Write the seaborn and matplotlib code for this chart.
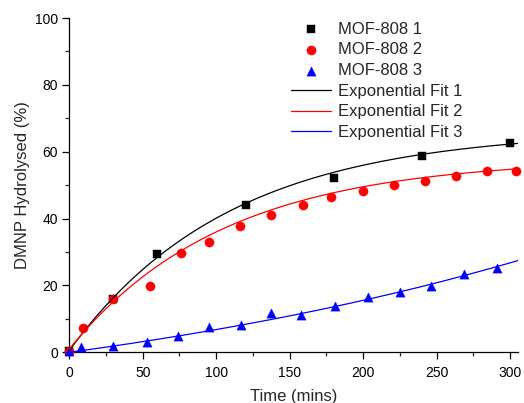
import numpy as np
import pandas as pd
import matplotlib
matplotlib.use("Agg")
import matplotlib.pyplot as plt
import seaborn as sns

# ---- data ----
t1 = [0, 30, 60, 120, 180, 240, 300]
y1 = [0.5, 15.8, 29.4, 44.1, 52.1, 58.6, 62.6]

t2 = [0, 9, 30, 55, 76, 95, 116, 137, 159, 178, 200, 221, 242, 263, 284, 304]
y2 = [0.5, 7.2, 15.9, 19.9, 29.8, 33.0, 37.9, 41.2, 44.1, 46.6, 48.3, 50.0, 51.1, 52.6, 54.1, 54.1]

t3 = [0, 8, 30, 53, 74, 95, 117, 137, 158, 181, 203, 225, 246, 269, 291]
y3 = [0.3, 1.7, 2.0, 3.0, 4.9, 7.5, 8.2, 11.7, 11.2, 13.9, 16.6, 18.1, 19.9, 23.4, 25.2]

# exponential fit parameters (y = y0 + A*(1-exp(-t/tau)) ; growth for series 3)
fit1 = dict(y0=0.5, A=66.0, tau=109.0)
fit2 = dict(y0=1.0, A=57.0, tau=105.0)
fit3 = dict(y0=0.0, A=23.95, tau=400.0)

series_labels = ["MOF-808 1", "MOF-808 2", "MOF-808 3"]
fit_labels = ["Exponential Fit 1", "Exponential Fit 2", "Exponential Fit 3"]
colors = ["#000000", "#ff0000", "#0000ff"]
markers = ["s", "o", "^"]

sns.set_style("ticks")
plt.rcParams['font.family'] = ['Liberation Sans', 'DejaVu Sans']

fig = plt.figure(figsize=(5.24, 4.03), dpi=100)
ax = fig.add_axes([0.1323, 0.1258, 0.8567, 0.8295])

tt = np.linspace(0, 306, 300)
f1 = fit1["y0"] + fit1["A"] * (1 - np.exp(-tt / fit1["tau"]))
f2 = fit2["y0"] + fit2["A"] * (1 - np.exp(-tt / fit2["tau"]))
f3 = fit3["y0"] + fit3["A"] * (np.exp(tt / fit3["tau"]) - 1)

for t, y, c, m, lab, ms in zip([t1, t2, t3], [y1, y2, y3], colors, markers, series_labels, [30, 44, 44]):
    df = pd.DataFrame({"t": t, "y": y})
    sns.scatterplot(data=df, x="t", y="y", color=c, marker=m, s=ms, edgecolor=c,
                    linewidth=0.3, ax=ax, label=lab, zorder=3, clip_on=False)

for f, c, lab in zip([f1, f2, f3], colors, fit_labels):
    df = pd.DataFrame({"t": tt, "y": f})
    sns.lineplot(data=df, x="t", y="y", color=c, linewidth=0.9, ax=ax, label=lab, zorder=4)

ax.set_xlim(0, 305.6)
ax.set_ylim(0, 100)
ax.set_xticks([0, 50, 100, 150, 200, 250, 300])
ax.set_yticks([0, 20, 40, 60, 80, 100])
ax.set_xticks(np.arange(25, 305, 50), minor=True)
ax.set_yticks(np.arange(10, 100, 20), minor=True)
ax.tick_params(which="major", direction="out", length=5, width=0.9, labelsize=10, colors="black")
ax.tick_params(axis="x", which="major", pad=5)
ax.tick_params(axis="y", which="major", pad=3)
ax.tick_params(which="minor", direction="out", length=3, width=0.9)
for s in ["top", "right"]:
    ax.spines[s].set_visible(False)
for s in ["left", "bottom"]:
    ax.spines[s].set_linewidth(0.9)
    ax.spines[s].set_color("black")

ax.set_xlabel("Time (mins)", fontsize=12, labelpad=6)
ax.set_ylabel("DMNP Hydrolysed (%)", fontsize=12, labelpad=4)

h, l = ax.get_legend_handles_labels()
order = series_labels + fit_labels
hd = dict(zip(l, h))
ax.legend([hd[k] for k in order], order, frameon=False, fontsize=12,
          loc="upper left", bbox_to_anchor=(0.480, 1.009), handlelength=2.4,
          labelspacing=0.34, handletextpad=0.4, borderpad=0.2, borderaxespad=0.2)

fig.savefig("out.png", dpi=100)
